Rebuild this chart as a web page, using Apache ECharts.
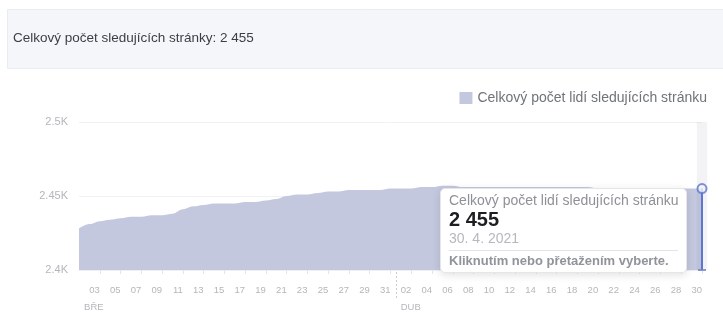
<!DOCTYPE html>
<html>
<head>
<meta charset="utf-8">
<script src="https://cdn.jsdelivr.net/npm/echarts@6/dist/echarts.min.js"></script>
<style>
  html, body { margin: 0; padding: 0; background: #fff; }
  #chart { width: 723px; height: 313px; }
</style>
</head>
<body>
<div id="chart"></div>
<script>
// ---- data ----
const titleText = 'Celkový počet sledujících stránky: 2 455';
const seriesName = 'Celkový počet lidí sledujících stránku';
const footerText = 'Kliknutím nebo přetažením vyberte.';
const categories = [
  '1. 3. 2021','2. 3. 2021','3. 3. 2021','4. 3. 2021','5. 3. 2021','6. 3. 2021','7. 3. 2021','8. 3. 2021','9. 3. 2021','10. 3. 2021',
  '11. 3. 2021','12. 3. 2021','13. 3. 2021','14. 3. 2021','15. 3. 2021','16. 3. 2021','17. 3. 2021','18. 3. 2021','19. 3. 2021','20. 3. 2021',
  '21. 3. 2021','22. 3. 2021','23. 3. 2021','24. 3. 2021','25. 3. 2021','26. 3. 2021','27. 3. 2021','28. 3. 2021','29. 3. 2021','30. 3. 2021',
  '31. 3. 2021','1. 4. 2021','2. 4. 2021','3. 4. 2021','4. 4. 2021','5. 4. 2021','6. 4. 2021','7. 4. 2021','8. 4. 2021','9. 4. 2021',
  '10. 4. 2021','11. 4. 2021','12. 4. 2021','13. 4. 2021','14. 4. 2021','15. 4. 2021','16. 4. 2021','17. 4. 2021','18. 4. 2021','19. 4. 2021',
  '20. 4. 2021','21. 4. 2021','22. 4. 2021','23. 4. 2021','24. 4. 2021','25. 4. 2021','26. 4. 2021','27. 4. 2021','28. 4. 2021','29. 4. 2021',
  '30. 4. 2021'
];
const followers = [
  2428, 2431, 2433, 2434, 2435, 2436, 2436, 2437, 2437, 2438,
  2441, 2443, 2444, 2445, 2445, 2445, 2446, 2446, 2447, 2448,
  2450, 2451, 2451, 2452, 2453, 2453, 2454, 2454, 2454, 2454,
  2455, 2455, 2455, 2456, 2456, 2457, 2457, 2456, 2456, 2456,
  2456, 2456, 2456, 2456, 2456, 2456, 2456, 2456, 2456, 2456,
  2455, 2455, 2455, 2455, 2455, 2455, 2455, 2455, 2455, 2455, 2455
];
const monthNames = { '3': 'BŘE', '4': 'DUB' };
const yTicks = { 2400: '2.4K', 2450: '2.45K', 2500: '2.5K' };
const yMin = 2400, yMax = 2500, yStep = 50;

// ---- helpers ----
const FONT = '"Liberation Sans", Helvetica, Arial, sans-serif';
const lastIdx = followers.length - 1;
const lastVal = followers[lastIdx];
const dayOf = c => c.split('.')[0].trim();
const monthOf = c => c.split('.')[1].trim();
const fmtNum = n => String(n).replace(/\B(?=(\d{3})+(?!\d))/g, '\u00a0');
const pad2 = s => (s.length < 2 ? '0' + s : s);
const AREA = '#c3c8de';
const BLUE = '#5877d6';

const chart = echarts.init(document.getElementById('chart'), null, { renderer: 'canvas' });

const option = {
  animation: false,
  textStyle: { fontFamily: FONT },
  graphic: [{
    id: 'panel', type: 'rect', left: 7, top: 9, z: -10,
    shape: { width: 716, height: 59 },
    style: { fill: '#f4f6f9', stroke: '#e9ecf0', lineWidth: 1 }
  }],
  title: {
    text: titleText, left: 8, top: 26,
    textStyle: { fontSize: 13.5, fontWeight: 'normal', color: '#3b3f45', fontFamily: FONT }
  },
  legend: {
    data: [seriesName], right: 16, top: 91, icon: 'rect',
    itemWidth: 13, itemHeight: 12, itemGap: 6, padding: 0,
    textStyle: { fontSize: 14, color: '#707379', fontFamily: FONT }
  },
  grid: { left: 79, right: 21, top: 122, bottom: 43, containLabel: false },
  tooltip: {
    trigger: 'axis',
    alwaysShowContent: true,
    transitionDuration: 0,
    showDelay: 0,
    axisPointer: { type: 'shadow', shadowStyle: { color: 'rgba(120,125,140,0.09)' } },
    backgroundColor: '#ffffff',
    borderColor: '#e4e6ea',
    borderWidth: 1,
    padding: [3, 8, 2, 8],
    extraCssText: 'border-radius:5px;box-shadow:0 2px 8px rgba(0,0,0,0.12);width:229px;',
    position: function (point, params, dom, rect, size) {
      return [point[0] - size.contentSize[0] - 15, point[1] - 1];
    },
    formatter: function (params) {
      const i = params[0].dataIndex;
      return '<div style="font-family:' + FONT.replace(/"/g, "'") + ';">' +
        '<div style="font-size:14px;color:#8d9197;line-height:16px;white-space:nowrap;">' + seriesName + '</div>' +
        '<div style="font-size:20px;font-weight:bold;color:#1c1e21;line-height:22px;">' + fmtNum(followers[i]) + '</div>' +
        '<div style="font-size:14px;color:#b5b8bd;line-height:17px;padding-bottom:3px;border-bottom:1px solid #e2e4e8;">' + categories[i] + '</div>' +
        '<div style="font-size:13px;font-weight:bold;color:#90949a;line-height:19px;white-space:nowrap;">' + footerText + '</div>' +
        '</div>';
    }
  },
  xAxis: [{
    type: 'category', data: categories, boundaryGap: false,
    axisLine: { show: true, lineStyle: { color: '#eceef1' } },
    axisTick: {
      show: true, length: 4, lineStyle: { color: '#e3e5e8' },
      interval: (i) => i > 0 && i % 2 === 0
    },
    axisLabel: {
      interval: (i) => i > 0 && i % 2 === 0,
      formatter: (v) => pad2(dayOf(v)),
      align: 'right', margin: 15,
      fontSize: 9.5, color: '#b4b6ba', fontFamily: FONT
    },
    splitLine: { show: false }
  }, {
    type: 'category', data: categories, boundaryGap: true, position: 'bottom',
    axisLine: { show: false },
    axisTick: { show: false },
    axisLabel: {
      interval: (i) => dayOf(categories[i]) === '1',
      formatter: (v) => monthNames[monthOf(v)] || '',
      align: 'left', margin: 32,
      fontSize: 9.5, color: '#b4b6ba', fontFamily: FONT
    },
    splitLine: { show: false }
  }],
  yAxis: {
    type: 'value', min: yMin, max: yMax, interval: yStep,
    axisLine: { show: false }, axisTick: { show: false },
    axisLabel: {
      formatter: (v) => yTicks[v] || '', margin: 11,
      fontSize: 11, color: '#b4b6ba', fontFamily: FONT
    },
    splitLine: { show: true, lineStyle: { color: '#f0f1f3' } }
  },
  series: [{
    name: seriesName,
    type: 'line',
    data: followers,
    smooth: 0.4,
    smoothMonotone: 'x',
    showSymbol: false,
    symbol: 'none',
    itemStyle: { color: AREA },
    lineStyle: { width: 0, color: AREA },
    areaStyle: { color: AREA, opacity: 1 },
    emphasis: { disabled: true },
    markLine: {
      silent: true, animation: false,
      symbol: ['none', 'none'],
      label: { show: false },
      lineStyle: { color: BLUE, width: 2, type: 'solid' },
      emphasis: { disabled: true },
      data: [[{ coord: [lastIdx, lastVal] }, { coord: [lastIdx, yMin] }]]
    }
  }, {
    name: 'marker',
    type: 'scatter',
    data: [[lastIdx, lastVal]],
    symbol: 'circle', symbolSize: 9,
    itemStyle: { color: '#ffffff', borderColor: BLUE, borderWidth: 2 },
    emphasis: { disabled: true },
    silent: true, z: 5
  }, {
    name: 'cap',
    type: 'scatter',
    data: [[lastIdx, yMin]],
    symbol: 'rect', symbolSize: [8, 2],
    itemStyle: { color: '#6f82c4' },
    emphasis: { disabled: true },
    silent: true, z: 5
  }]
};

chart.setOption(option);

// month separator placed through the axis scale (between last day of March and 1 April)
const sepIdx = categories.findIndex((c, i) => i > 0 && dayOf(c) === '1');
const xa = chart.convertToPixel({ xAxisIndex: 0 }, sepIdx - 1);
const xb = chart.convertToPixel({ xAxisIndex: 0 }, sepIdx);
const yBase = chart.convertToPixel({ yAxisIndex: 0 }, yMin);
const sepX = Math.round((xa + xb) / 2) + 0.5;
chart.setOption({
  graphic: [{
    id: 'sep', type: 'line', z: 1,
    shape: { x1: sepX, y1: yBase + 2, x2: sepX, y2: yBase + 30 },
    style: { stroke: '#c9cbcf', lineWidth: 1, lineDash: [2, 2] }
  }]
});

chart.dispatchAction({ type: 'showTip', seriesIndex: 0, dataIndex: lastIdx });
</script>
</body>
</html>
